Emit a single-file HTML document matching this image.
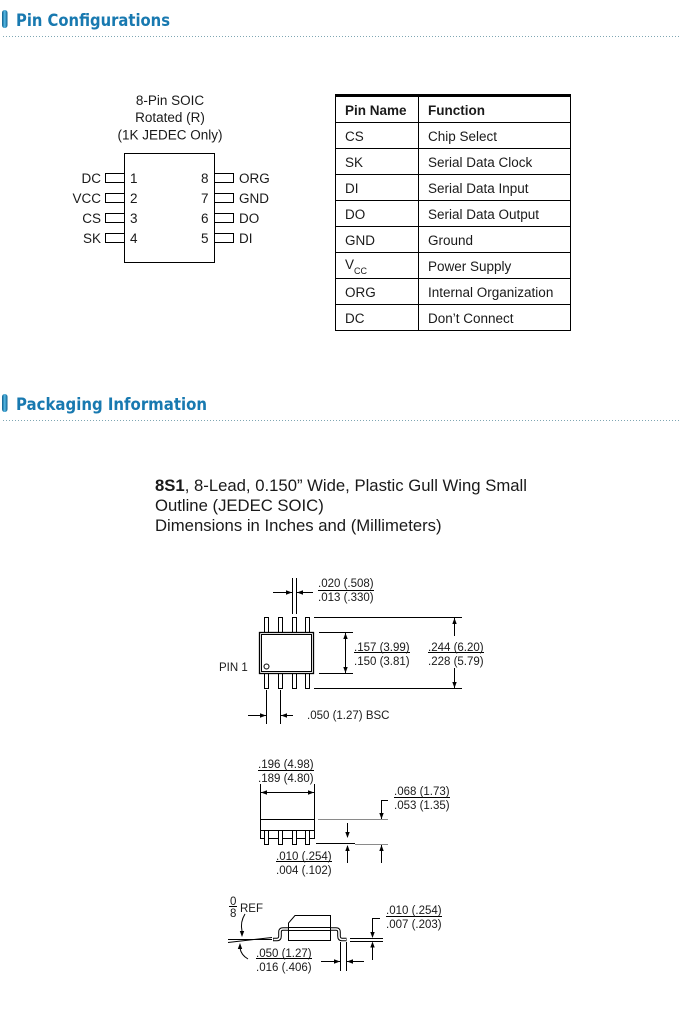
<!DOCTYPE html>
<html><head><meta charset="utf-8"><style>
html,body{margin:0;padding:0;background:#fff;}
svg{display:block;}
</style></head><body>
<svg width="680" height="1019" viewBox="0 0 680 1019" xmlns="http://www.w3.org/2000/svg">
<defs>
<linearGradient id="pill" x1="0" x2="1" y1="0" y2="0">
<stop offset="0" stop-color="#0b5d8c"/><stop offset="0.5" stop-color="#55b8e4"/><stop offset="1" stop-color="#0b5d8c"/>
</linearGradient>
</defs>
<rect width="680" height="1019" fill="#fff"/>

<!-- Header 1 -->
<rect x="2" y="10" width="5.5" height="18" rx="2.7" fill="url(#pill)"/>
<text x="16" y="26" font-family="DejaVu Sans, sans-serif" font-weight="bold" font-size="17" fill="#1879b0" textLength="154" lengthAdjust="spacingAndGlyphs">Pin Configurations</text>
<line x1="3" y1="36.5" x2="680" y2="36.5" stroke="#7fa6b3" stroke-dasharray="1 2"/>

<!-- Header 2 -->
<rect x="2" y="394" width="5.5" height="18" rx="2.7" fill="url(#pill)"/>
<text x="16" y="410" font-family="DejaVu Sans, sans-serif" font-weight="bold" font-size="17" fill="#1879b0" textLength="191" lengthAdjust="spacingAndGlyphs">Packaging Information</text>
<line x1="3" y1="420.5" x2="680" y2="420.5" stroke="#7fa6b3" stroke-dasharray="1 2"/>

<!-- Pin config diagram -->
<g font-family="Liberation Sans, Arial, sans-serif" font-size="13.5" fill="#1a1a1a">
<text x="170" y="105" text-anchor="middle">8-Pin SOIC</text>
<text x="170" y="122" text-anchor="middle">Rotated (R)</text>
<text x="170" y="139.5" text-anchor="middle">(1K JEDEC Only)</text>
</g>
<g fill="none" stroke="#000" stroke-width="1">
<rect x="124.5" y="153.5" width="90" height="109"/>
<rect x="105.5" y="173.5" width="19" height="9"/>
<rect x="105.5" y="193.5" width="19" height="9"/>
<rect x="105.5" y="213.5" width="19" height="9"/>
<rect x="105.5" y="233.5" width="19" height="9"/>
<rect x="214.5" y="173.5" width="19" height="9"/>
<rect x="214.5" y="193.5" width="19" height="9"/>
<rect x="214.5" y="213.5" width="19" height="9"/>
<rect x="214.5" y="233.5" width="19" height="9"/>
</g>
<g font-family="Liberation Sans, Arial, sans-serif" font-size="13.5" fill="#1a1a1a">
<text x="101" y="183" text-anchor="end">DC</text>
<text x="101" y="203" text-anchor="end">VCC</text>
<text x="101" y="223" text-anchor="end">CS</text>
<text x="101" y="243" text-anchor="end">SK</text>
<text x="130" y="183">1</text>
<text x="130" y="203">2</text>
<text x="130" y="223">3</text>
<text x="130" y="243">4</text>
<text x="201" y="183">8</text>
<text x="201" y="203">7</text>
<text x="201" y="223">6</text>
<text x="201" y="243">5</text>
<text x="239" y="183">ORG</text>
<text x="239" y="203">GND</text>
<text x="239" y="223">DO</text>
<text x="239" y="243">DI</text>
</g>

<!-- Table -->
<rect x="335" y="94" width="236" height="3" fill="#000"/>
<g stroke="#000" stroke-width="1" fill="none">
<line x1="335.5" y1="96" x2="335.5" y2="331"/>
<line x1="418.5" y1="96" x2="418.5" y2="331"/>
<line x1="570.5" y1="96" x2="570.5" y2="331"/>
<line x1="335" y1="122.5" x2="571" y2="122.5"/>
<line x1="335" y1="148.5" x2="571" y2="148.5"/>
<line x1="335" y1="174.5" x2="571" y2="174.5"/>
<line x1="335" y1="200.5" x2="571" y2="200.5"/>
<line x1="335" y1="226.5" x2="571" y2="226.5"/>
<line x1="335" y1="252.5" x2="571" y2="252.5"/>
<line x1="335" y1="278.5" x2="571" y2="278.5"/>
<line x1="335" y1="304.5" x2="571" y2="304.5"/>
<line x1="335" y1="330.5" x2="571" y2="330.5"/>
</g>
<g font-family="Liberation Sans, Arial, sans-serif" font-size="13.5" fill="#1a1a1a">
<text x="345" y="115" font-weight="bold">Pin Name</text>
<text x="428" y="115" font-weight="bold">Function</text>
<text x="345" y="141">CS</text><text x="428" y="141">Chip Select</text>
<text x="345" y="167">SK</text><text x="428" y="167">Serial Data Clock</text>
<text x="345" y="193">DI</text><text x="428" y="193">Serial Data Input</text>
<text x="345" y="219">DO</text><text x="428" y="219">Serial Data Output</text>
<text x="345" y="245">GND</text><text x="428" y="245">Ground</text>
<text x="345" y="269">V</text><text x="354" y="274" font-size="9">CC</text><text x="428" y="271">Power Supply</text>
<text x="345" y="297">ORG</text><text x="428" y="297">Internal Organization</text>
<text x="345" y="323">DC</text><text x="428" y="323">Don’t Connect</text>
</g>

<!-- Package description -->
<g font-family="Liberation Sans, Arial, sans-serif" font-size="16.7" fill="#1a1a1a">
<text x="155" y="491"><tspan font-weight="bold">8S1</tspan>, 8-Lead, 0.150” Wide, Plastic Gull Wing Small</text>
<text x="155" y="511">Outline (JEDEC SOIC)</text>
<text x="155" y="531">Dimensions in Inches and (Millimeters)</text>
</g>

<!-- ===== Top view ===== -->
<g stroke="#000" stroke-width="1" fill="#fff">
<rect x="264.5" y="617.5" width="4" height="15"/>
<rect x="278.5" y="617.5" width="4" height="15"/>
<rect x="292.5" y="617.5" width="4" height="15"/>
<rect x="305.5" y="617.5" width="4" height="15"/>
<rect x="264.5" y="673.5" width="4" height="15"/>
<rect x="278.5" y="673.5" width="4" height="15"/>
<rect x="292.5" y="673.5" width="4" height="15"/>
<rect x="305.5" y="673.5" width="4" height="15"/>
<rect x="259.5" y="632.5" width="54" height="41" stroke-width="1.3"/>
<rect x="261.5" y="634.5" width="50" height="37" fill="none"/>
<circle cx="266.5" cy="666.5" r="2.5" fill="none"/>
</g>
<g stroke="#000" stroke-width="1" fill="none">
<line x1="292.5" y1="578" x2="292.5" y2="614"/>
<line x1="296.5" y1="578" x2="296.5" y2="614"/>
<line x1="273" y1="592.5" x2="292" y2="592.5"/>
<line x1="297" y1="592.5" x2="313" y2="592.5"/>
<line x1="314" y1="617.5" x2="462" y2="617.5"/>
<line x1="314" y1="688.5" x2="462" y2="688.5"/>
<line x1="319" y1="632.5" x2="353" y2="632.5"/>
<line x1="319" y1="673.5" x2="353" y2="673.5"/>
<line x1="345.5" y1="633" x2="345.5" y2="673"/>
<line x1="454.5" y1="618" x2="454.5" y2="636"/>
<line x1="454.5" y1="668" x2="454.5" y2="688"/>
<line x1="266.5" y1="690" x2="266.5" y2="724"/>
<line x1="280.5" y1="690" x2="280.5" y2="724"/>
<line x1="248" y1="715.5" x2="266" y2="715.5"/>
<line x1="281" y1="715.5" x2="293" y2="715.5"/>
<line x1="318" y1="590.5" x2="374" y2="590.5"/>
<line x1="354" y1="652.5" x2="410" y2="652.5"/>
<line x1="428" y1="652.5" x2="484" y2="652.5"/>
</g>
<g fill="#000">
<polygon points="292,592.5 286,590.3 286,594.7"/>
<polygon points="297,592.5 303,590.3 303,594.7"/>
<polygon points="345.5,633 343.3,639 347.7,639"/>
<polygon points="345.5,673 343.3,667 347.7,667"/>
<polygon points="454.5,618 452.3,624 456.7,624"/>
<polygon points="454.5,688 452.3,682 456.7,682"/>
<polygon points="266,715.5 260,713.3 260,717.7"/>
<polygon points="281,715.5 287,713.3 287,717.7"/>
</g>
<g font-family="Liberation Sans, Arial, sans-serif" font-size="11.5" fill="#1a1a1a">
<text x="318" y="587">.020 (.508)</text>
<text x="318" y="601">.013 (.330)</text>
<text x="354" y="651">.157 (3.99)</text>
<text x="354" y="665">.150 (3.81)</text>
<text x="428" y="651">.244 (6.20)</text>
<text x="428" y="665">.228 (5.79)</text>
<text x="219" y="671">PIN 1</text>
<text x="307" y="719">.050 (1.27) BSC</text>
</g>

<!-- ===== Side view ===== -->
<g stroke="#000" stroke-width="1" fill="none">
<line x1="260.5" y1="784" x2="260.5" y2="820"/>
<line x1="314.5" y1="784" x2="314.5" y2="820"/>
<line x1="261" y1="792.5" x2="314" y2="792.5"/>
<line x1="258" y1="770.5" x2="314" y2="770.5"/>
<rect x="260.5" y="819.5" width="54" height="19"/>
<line x1="260.5" y1="830.5" x2="314.5" y2="830.5"/>
</g>
<g stroke="#000" stroke-width="1" fill="#fff">
<rect x="264.5" y="830.5" width="4" height="14"/>
<rect x="278.5" y="830.5" width="4" height="14"/>
<rect x="292.5" y="830.5" width="4" height="14"/>
<rect x="305.5" y="830.5" width="4" height="14"/>
</g>
<g stroke="#8a8a8a" stroke-width="1" fill="none">
<line x1="318" y1="819.5" x2="388" y2="819.5"/>
<line x1="355" y1="844.5" x2="388" y2="844.5"/>
</g>
<g stroke="#000" stroke-width="1" fill="none">
<line x1="316" y1="843.5" x2="355" y2="843.5"/>
<line x1="347.5" y1="823" x2="347.5" y2="837"/>
<line x1="347.5" y1="846" x2="347.5" y2="863"/>
<line x1="381.5" y1="800.5" x2="388" y2="800.5"/>
<line x1="381.5" y1="800" x2="381.5" y2="819"/>
<line x1="381.5" y1="845" x2="381.5" y2="863"/>
<line x1="394" y1="797.5" x2="450" y2="797.5"/>
<line x1="276" y1="861.5" x2="332" y2="861.5"/>
</g>
<g fill="#000">
<polygon points="261,792.5 267,790.3 267,794.7"/>
<polygon points="314,792.5 308,790.3 308,794.7"/>
<polygon points="347.5,838 345.3,832 349.7,832"/>
<polygon points="347.5,845 345.3,851 349.7,851"/>
<polygon points="381.5,819 379.3,813 383.7,813"/>
<polygon points="381.5,845 379.3,851 383.7,851"/>
</g>
<g font-family="Liberation Sans, Arial, sans-serif" font-size="11.5" fill="#1a1a1a">
<text x="258" y="768">.196 (4.98)</text>
<text x="258" y="782">.189 (4.80)</text>
<text x="394" y="795">.068 (1.73)</text>
<text x="394" y="809">.053 (1.35)</text>
<text x="276" y="860">.010 (.254)</text>
<text x="276" y="874">.004 (.102)</text>
</g>

<!-- ===== Gull wing view ===== -->
<g stroke="#000" stroke-width="1" fill="none">
<path d="M288.5,927.5 L288.5,923 L295,915.5 L330.5,915.5 L330.5,927.5"/>
<rect x="288.5" y="927.5" width="42" height="13"/>
<line x1="288.5" y1="930.5" x2="330.5" y2="930.5"/>
</g>
<g fill="none" stroke-linejoin="round">
<path d="M288,929 L283,929 Q280,929 280,932 L280,936 Q280,939.5 277,939.5 L273,939.5" stroke="#000" stroke-width="3.6"/>
<path d="M288,929 L283,929 Q280,929 280,932 L280,936 Q280,939.5 277,939.5 L273.5,939.5" stroke="#fff" stroke-width="1.6"/>
<path d="M331,929 L336,929 Q339,929 339,932 L339,936 Q339,939.5 342,939.5 L346.5,939.5" stroke="#000" stroke-width="3.6"/>
<path d="M331,929 L336,929 Q339,929 339,932 L339,936 Q339,939.5 342,939.5 L346,939.5" stroke="#fff" stroke-width="1.6"/>
</g>
<g stroke="#000" stroke-width="1" fill="none">
<line x1="228" y1="939.5" x2="272" y2="939.5"/>
<line x1="228" y1="942.5" x2="272" y2="937.5"/>
<line x1="350" y1="938.5" x2="383" y2="938.5"/>
<line x1="350" y1="941.5" x2="383" y2="941.5"/>
<path d="M245,914 Q240,922 242,931"/>
<path d="M240,948 Q241,955 248,959"/>
<line x1="372.5" y1="918.5" x2="380" y2="918.5"/>
<line x1="372.5" y1="918" x2="372.5" y2="935"/>
<line x1="372.5" y1="945" x2="372.5" y2="960"/>
<line x1="340.5" y1="942" x2="340.5" y2="971"/>
<line x1="346.5" y1="942" x2="346.5" y2="971"/>
<line x1="321" y1="961.5" x2="340" y2="961.5"/>
<line x1="347" y1="961.5" x2="364" y2="961.5"/>
<line x1="229" y1="906.5" x2="237" y2="906.5"/>
<line x1="386" y1="916.5" x2="442" y2="916.5"/>
<line x1="256" y1="958.5" x2="312" y2="958.5"/>
</g>
<g fill="#000">
<polygon points="242,937 239.8,931 244.2,931"/>
<polygon points="240,943 237.8,949 242.2,949"/>
<polygon points="372.5,938 370.3,932 374.7,932"/>
<polygon points="372.5,941.5 370.3,947.5 374.7,947.5"/>
<polygon points="340,961.5 334,959.3 334,963.7"/>
<polygon points="347,961.5 353,959.3 353,963.7"/>
</g>
<g font-family="Liberation Sans, Arial, sans-serif" font-size="11.5" fill="#1a1a1a">
<text x="230" y="905">0</text>
<text x="230" y="917">8</text>
<text x="240" y="912">REF</text>
<text x="386" y="914">.010 (.254)</text>
<text x="386" y="928">.007 (.203)</text>
<text x="256" y="957">.050 (1.27)</text>
<text x="256" y="971">.016 (.406)</text>
</g>
</svg>
</body></html>
